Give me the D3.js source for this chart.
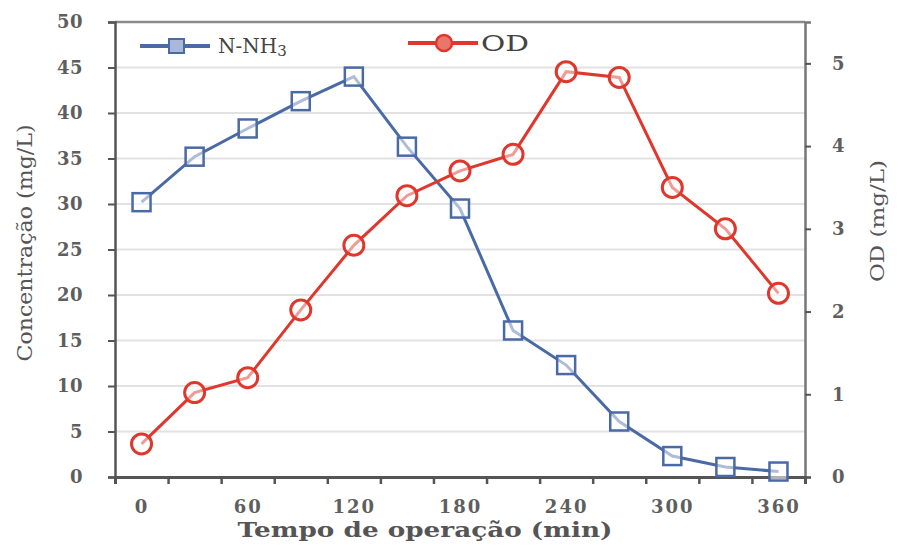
<!DOCTYPE html>
<meta charset='utf-8'>
<html>
<head>
<script src="https://d3js.org/d3.v7.min.js"></script>
<style>
  body { margin: 0; background: #fff; }
</style>
</head>
<body>
<div id="chart-container"></div>
<script>
// data
const tempos = [0, 30, 60, 90, 120, 150, 180, 210, 240, 270, 300, 330, 360];
const nh3 = [30.2, 35.2, 38.3, 41.3, 44.0, 36.3, 29.5, 16.1, 12.3, 6.1, 2.3, 1.1, 0.6];
const od = [0.4, 1.02, 1.2, 2.02, 2.8, 3.4, 3.7, 3.9, 4.9, 4.83, 3.5, 3.0, 2.22];
const leftTicks = [0, 5, 10, 15, 20, 25, 30, 35, 40, 45, 50];
const rightTicks = [0, 1, 2, 3, 4, 5];
const xLabels = [0, 60, 120, 180, 240, 300, 360];

const svgWidth = 899, svgHeight = 547;
const margin = {top: 22, left: 115, bottom: 70, right: 94};
const w = svgWidth - margin.left - margin.right;
const h = svgHeight - margin.top - margin.bottom;

// only serif face that resolves here
const serif = 'DejaVu Serif';
const blue = '#4a6aa6';
const red = '#e0372c';
const axisGray = '#555';
const textGray = '#5e5e5e';

const svg = d3.select('#chart-container')
    .append('svg')
    .attr('width', svgWidth)
    .attr('height', svgHeight)
    .attr('font-family', serif);

const chart = svg.append('g')
    .attr('transform', 'translate(' + margin.left + ',' + margin.top + ')');

// category axis: each point sits in the middle of a 30-min slot
const x = d3.scaleLinear().domain([-15, 375]).range([0, w]);
const yL = d3.scaleLinear().domain([0, 50]).range([h, 0]);
const yR = d3.scaleLinear().domain([0, 5.5]).range([h, 0]);

// gridlines
chart.append('g')
    .selectAll('line')
    .data(leftTicks.filter(d => d > 0 && d < 50))
    .enter().append('line')
    .attr('x1', 0).attr('x2', w)
    .attr('y1', d => yL(d)).attr('y2', d => yL(d))
    .attr('stroke', '#e2e2e2')
    .attr('stroke-width', 2);

// frame top
chart.append('line')
    .attr('x1', 0).attr('x2', w).attr('y1', 0).attr('y2', 0)
    .attr('stroke', '#8a8a8a').attr('stroke-width', 2.5);

// left axis
const leftAxis = chart.append('g')
    .call(d3.axisLeft(yL).tickValues(leftTicks).tickSize(7).tickPadding(25));
leftAxis.attr('font-family', serif);
leftAxis.select('.domain').attr('stroke', axisGray).attr('stroke-width', 2.5);
leftAxis.selectAll('.tick line').attr('stroke', axisGray).attr('stroke-width', 2);
leftAxis.selectAll('text')
    .attr('fill', textGray).attr('font-size', 18).attr('font-weight', 'bold')
    .attr('letter-spacing', 0.5);

// right axis
const rightAxis = chart.append('g')
    .attr('transform', 'translate(' + w + ',0)')
    .call(d3.axisRight(yR).tickValues(rightTicks).tickSize(6).tickPadding(21)
        .tickFormat(d3.format('d')));
rightAxis.attr('font-family', serif);
rightAxis.select('.domain').attr('stroke', '#777').attr('stroke-width', 2.5);
rightAxis.selectAll('.tick line').attr('stroke', axisGray).attr('stroke-width', 2);
rightAxis.selectAll('text')
    .attr('fill', textGray).attr('font-size', 18).attr('font-weight', 'bold');

// bottom axis: tick marks at slot boundaries, labels at every other point
const bounds = d3.range(-15, 376, 30);
const tickAxis = chart.append('g')
    .attr('transform', 'translate(0,' + h + ')')
    .call(d3.axisBottom(x).tickValues(bounds).tickSize(7).tickFormat(''));
tickAxis.select('.domain').attr('stroke', axisGray).attr('stroke-width', 3);
tickAxis.selectAll('.tick line').attr('stroke', axisGray).attr('stroke-width', 2.5);

const labelAxis = chart.append('g')
    .attr('transform', 'translate(0,' + h + ')')
    .call(d3.axisBottom(x).tickValues(xLabels).tickSize(0).tickPadding(23));
labelAxis.attr('font-family', serif);
labelAxis.select('.domain').remove();
labelAxis.selectAll('text')
    .attr('fill', textGray).attr('font-size', 18).attr('font-weight', 'bold')
    .attr('letter-spacing', 2);

// axis titles
svg.append('text')
    .attr('transform', 'translate(32,243) rotate(-90)')
    .attr('text-anchor', 'middle')
    .attr('fill', axisGray)
    .attr('font-size', 21)
    .attr('textLength', 237)
    .attr('lengthAdjust', 'spacingAndGlyphs')
    .text('Concentração (mg/L)');

svg.append('text')
    .attr('transform', 'translate(884,221) rotate(-90)')
    .attr('text-anchor', 'middle')
    .attr('fill', axisGray)
    .attr('font-size', 19)
    .attr('textLength', 122)
    .attr('lengthAdjust', 'spacingAndGlyphs')
    .text('OD (mg/L)');

svg.append('text')
    .attr('x', 425).attr('y', 537)
    .attr('text-anchor', 'middle')
    .attr('fill', axisGray)
    .attr('font-size', 21)
    .attr('font-weight', 'bold')
    .attr('textLength', 375)
    .attr('lengthAdjust', 'spacingAndGlyphs')
    .text('Tempo de operação (min)');

// lines
const lineN = d3.line().x((d, i) => x(tempos[i])).y(d => yL(d));
const lineO = d3.line().x((d, i) => x(tempos[i])).y(d => yR(d));

chart.append('path')
    .datum(nh3)
    .attr('d', lineN)
    .attr('fill', 'none').attr('stroke', blue).attr('stroke-width', 3);

chart.append('path')
    .datum(od)
    .attr('d', lineO)
    .attr('fill', 'none').attr('stroke', red).attr('stroke-width', 3);

const sq = 18;
chart.selectAll('.sq')
    .data(nh3)
    .enter().append('rect')
    .attr('x', (d, i) => x(tempos[i]) - sq / 2)
    .attr('y', d => yL(d) - sq / 2)
    .attr('width', sq).attr('height', sq)
    .attr('fill', 'rgba(255,255,255,0.55)')
    .attr('stroke', blue).attr('stroke-width', 2.5);

chart.selectAll('.circ')
    .data(od)
    .enter().append('circle')
    .attr('cx', (d, i) => x(tempos[i]))
    .attr('cy', d => yR(d))
    .attr('r', 10)
    .attr('fill', 'rgba(255,255,255,0.5)')
    .attr('stroke', red).attr('stroke-width', 3);

// legend
const leg = svg.append('g');
leg.append('line')
    .attr('x1', 140).attr('x2', 210).attr('y1', 46).attr('y2', 46)
    .attr('stroke', blue).attr('stroke-width', 4);
leg.append('rect')
    .attr('x', 169).attr('y', 39).attr('width', 15).attr('height', 14)
    .attr('fill', '#a9b8d8').attr('stroke', blue).attr('stroke-width', 2);
const t1 = leg.append('text')
    .attr('x', 218).attr('y', 53)
    .attr('fill', '#444').attr('font-size', 20)
    .text('N-NH');
t1.append('tspan').attr('font-size', 15).attr('dy', 3).text('3');

leg.append('line')
    .attr('x1', 408).attr('x2', 478).attr('y1', 43).attr('y2', 43)
    .attr('stroke', red).attr('stroke-width', 4);
leg.append('circle')
    .attr('cx', 444).attr('cy', 43).attr('r', 8)
    .attr('fill', '#e8766b').attr('stroke', red).attr('stroke-width', 2.5);
leg.append('text')
    .attr('x', 481).attr('y', 51)
    .attr('fill', '#444').attr('font-size', 22)
    .attr('textLength', 48)
    .attr('lengthAdjust', 'spacingAndGlyphs')
    .text('OD');
</script>
</body>
</html>
